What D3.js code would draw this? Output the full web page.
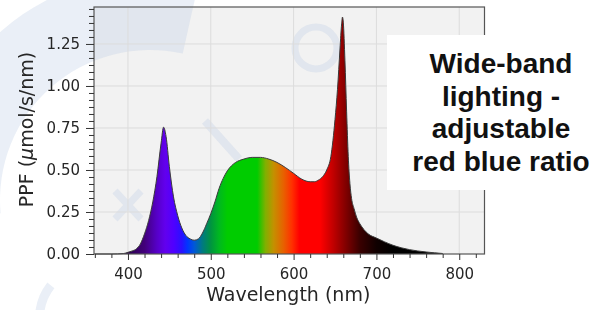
<!DOCTYPE html>
<meta charset="utf-8">
<title>Wide-band spectrum</title>
<style>
body { margin: 0; background: #fff; }
svg { display: block; }
.tick text { font-family: "DejaVu Sans", sans-serif; font-size: 15px; fill: #262626; }
.tick line { stroke: #333; }
.lbl { font-family: "DejaVu Sans", sans-serif; font-size: 19px; fill: #262626; }
.note { font-family: "Liberation Sans", Arial, sans-serif; font-weight: bold; font-size: 28px; fill: #111; }
</style>
<svg></svg>
<script src="https://cdn.jsdelivr.net/npm/d3@7"></script>
<script>
// spectrum
var wavelengths = [360,380,395,400,405,410,415,420,425,430,435,440,443,446,450,455,460,465,470,475,
  480,485,490,495,500,505,510,515,520,525,530,540,550,560,570,580,590,600,610,620,
  625,630,635,640,645,650,653,656,658,659,660,662,664,666,668,670,673,676,680,685,
  690,700,710,720,730,740,750,760,770,780];
var ppf = [0,0,0.003,0.01,0.018,0.03,0.06,0.12,0.2,0.31,0.46,0.66,0.755,0.7,0.52,0.34,0.23,0.155,0.11,0.09,
  0.082,0.09,0.125,0.18,0.24,0.31,0.39,0.45,0.495,0.525,0.545,0.565,0.575,0.575,0.565,0.545,0.515,0.48,0.445,0.43,
  0.43,0.44,0.46,0.5,0.58,0.8,0.98,1.22,1.37,1.41,1.38,1.15,0.85,0.58,0.42,0.33,0.27,0.22,0.18,0.145,
  0.12,0.095,0.072,0.052,0.037,0.026,0.018,0.012,0.007,0.003];

// colour of the light at each wavelength
var stopNm = [360,400,420,435,445,455,465,472,480,490,500,510,520,556,566,576,588,598,607,632,648,662,680,700,720,780];
var stopColor = ["#1a0030","#2c0050","#42007a","#5600c8","#6200ee","#5000ff","#2a10ff","#0036ff","#0058d8","#007a80",
  "#009440","#00b820","#00cc00","#00cc00","#80b000","#c49000","#e86000","#ff3000","#ff0000","#ff0000",
  "#c00000","#850000","#3a0000","#100000","#000000","#000000"];

var xTicks = [400,500,600,700,800];
var yTicks = [0,0.25,0.5,0.75,1.0,1.25];
var noteLines = ["Wide-band","lighting -","adjustable","red blue ratio"];

var width = 609, height = 310;
var pL = 94, pR = 484.5, pT = 7, pB = 254;

var svg = d3.select("svg").attr("width", width).attr("height", height);

var x = d3.scaleLinear().domain([359, 830.5]).range([pL, pR]);
var y = d3.scaleLinear().domain([0, 1.47]).range([pB, pT]);

// plot background
svg.append("rect")
    .attr("x", pL).attr("y", pT)
    .attr("width", pR - pL).attr("height", pB - pT)
    .style("fill", "#f2f2f2");

// faint watermark
var wm = svg.append("g").style("fill", "rgb(190,205,228)").style("stroke", "rgb(190,205,228)").style("opacity", 0.32);
wm.append("path")
    .attr("transform", "translate(150,200)")
    .attr("d", d3.arc().innerRadius(150).outerRadius(225).startAngle(-1.66).endAngle(0.22)())
    .style("stroke", "none");
wm.append("line").attr("x1", 115).attr("y1", 191).attr("x2", 141).attr("y2", 219).style("stroke-width", 7);
wm.append("line").attr("x1", 115).attr("y1", 219).attr("x2", 141).attr("y2", 191).style("stroke-width", 7);
wm.append("line").attr("x1", 205).attr("y1", 121).attr("x2", 239).attr("y2", 159).style("stroke-width", 8);
wm.append("circle").attr("cx", 316).attr("cy", 48).attr("r", 21).style("fill", "none").style("stroke-width", 7);
wm.append("path")
    .attr("transform", "translate(92,318)")
    .attr("d", d3.arc().innerRadius(48).outerRadius(57).startAngle(-1.95).endAngle(-0.9)())
    .style("stroke", "none");

// grid
var grid = svg.append("g").style("stroke", "#dcdcdc").style("stroke-width", 1);
grid.selectAll(".gx").data(xTicks).enter().append("line")
    .attr("x1", function(d) { return x(d); }).attr("x2", function(d) { return x(d); })
    .attr("y1", pT).attr("y2", pB);
grid.selectAll(".gy").data(yTicks.slice(1)).enter().append("line")
    .attr("y1", function(d) { return y(d); }).attr("y2", function(d) { return y(d); })
    .attr("x1", pL).attr("x2", pR);

// gradient fill by wavelength
var grad = svg.append("defs").append("linearGradient")
    .attr("id", "spec")
    .attr("gradientUnits", "userSpaceOnUse")
    .attr("x1", x(360)).attr("x2", x(780)).attr("y1", 0).attr("y2", 0);
grad.selectAll("stop").data(stopNm).enter().append("stop")
    .attr("offset", function(d) { return (d - 360) / (780 - 360); })
    .attr("stop-color", function(d, i) { return stopColor[i]; });

var pts = wavelengths.map(function(w, i) { return [w, ppf[i]]; });

var area = d3.area()
    .x(function(d) { return x(d[0]); })
    .y0(y(0))
    .y1(function(d) { return y(d[1]); })
    .curve(d3.curveMonotoneX);
var line = d3.line()
    .x(function(d) { return x(d[0]); })
    .y(function(d) { return y(d[1]); })
    .curve(d3.curveMonotoneX);

svg.append("path").datum(pts).attr("d", area).style("fill", "url(#spec)");
svg.append("path").datum(pts).attr("d", line)
    .style("fill", "none").style("stroke", "#3a3a3a").style("stroke-width", 1);

// frame
svg.append("rect")
    .attr("x", pL).attr("y", pT)
    .attr("width", pR - pL).attr("height", pB - pT)
    .style("fill", "none").style("stroke", "#555").style("stroke-width", 1.2);

// axes: minor then major ticks
var xMinor = d3.range(360, 821, 20).filter(function(d) { return d % 100; });
svg.append("g").attr("transform", "translate(0," + pB + ")")
    .call(d3.axisBottom(x).tickValues(xMinor).tickSize(4).tickFormat(""))
    .call(function(g) { g.select(".domain").remove(); });
svg.append("g").attr("transform", "translate(0," + pB + ")")
    .call(d3.axisBottom(x).tickValues(xTicks).tickSize(6).tickPadding(8).tickFormat(d3.format("d")))
    .call(function(g) { g.select(".domain").remove(); });

var yMinor = d3.range(0, 62).map(function(i) { return i * 0.25 / 6; })
    .filter(function(d, i) { return i % 6 && d <= 1.46; });
svg.append("g").attr("transform", "translate(" + pL + ",0)")
    .call(d3.axisLeft(y).tickValues(yMinor).tickSize(5).tickFormat(""))
    .call(function(g) { g.select(".domain").remove(); });
svg.append("g").attr("transform", "translate(" + pL + ",0)")
    .call(d3.axisLeft(y).tickValues(yTicks).tickSize(8).tickPadding(6).tickFormat(d3.format(".2f")))
    .call(function(g) { g.select(".domain").remove(); });

// axis labels
svg.append("text").attr("class", "lbl")
    .attr("x", (pL + pR) / 2 - 1).attr("y", 301)
    .style("text-anchor", "middle")
    .text("Wavelength (nm)");
var yl = svg.append("text").attr("class", "lbl")
    .attr("transform", "translate(33," + ((pT + pB) / 2 - 1) + ") rotate(-90)")
    .style("text-anchor", "middle");
yl.append("tspan").text("PPF (");
yl.append("tspan").style("font-style", "italic").text("μ");
yl.append("tspan").text("mol/s/nm)");

// note box
svg.append("rect")
    .attr("x", 387).attr("y", 35).attr("width", 230).attr("height", 155)
    .style("fill", "#fff");
svg.selectAll(".note").data(noteLines).enter().append("text")
    .attr("class", "note")
    .attr("x", 501)
    .attr("y", function(d, i) { return 73 + i * 32.6; })
    .style("text-anchor", "middle")
    .text(function(d) { return d; });
</script>
